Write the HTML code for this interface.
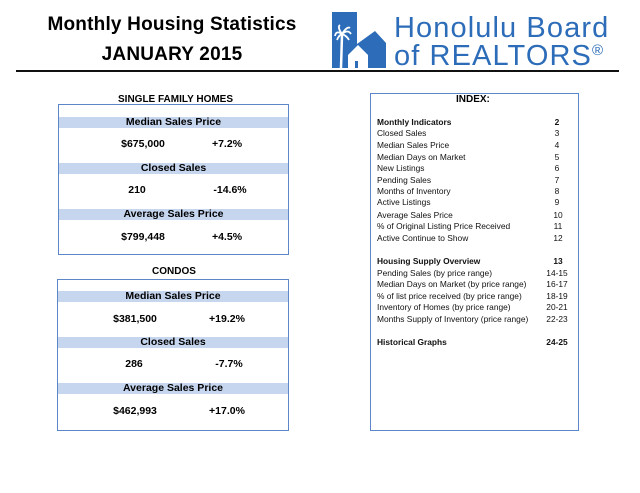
<!DOCTYPE html>
<html><head><meta charset="utf-8"><style>
body{margin:0;width:640px;height:493px;background:#fff;position:relative;font-family:"Liberation Sans",sans-serif;overflow:hidden}
.a{position:absolute;white-space:nowrap}
.t{font-weight:bold;font-size:19px;color:#000;text-align:center;width:320px;left:12px;letter-spacing:0.2px}
.logo{color:#2c6cb8;font-size:29px;left:394px;letter-spacing:1.1px}
.box{position:absolute;border:1.5px solid #5b87c8;box-sizing:border-box}
.bar{position:absolute;background:#c6d6ef;height:11px;font-weight:bold;font-size:10.5px;text-align:center;line-height:11px}
.v{position:absolute;font-weight:bold;font-size:10.5px;transform:translateX(-50%)}
.h{font-weight:bold;font-size:10px}
.ix{position:absolute;left:377px;font-size:8.4px;color:#111}
.in{position:absolute;font-size:8.4px;transform:translateX(-50%);color:#111}
</style></head><body>
<div class="a t" style="top:14px">Monthly Housing Statistics</div>
<div class="a t" style="top:44px">JANUARY 2015</div>
<svg class="a" style="left:330px;top:10px" width="60" height="60" viewBox="330 10 60 60">
<rect x="332" y="12" width="25" height="56" fill="#2c6cb8"/>
<polygon points="357,44 375,31 386,43 386,68 357,68" fill="#2c6cb8"/>
<polygon points="348,55 358,45 368,55 368,68 348,68" fill="#fff"/>
<rect x="355" y="61" width="3" height="7" fill="#2c6cb8"/>
<path d="M341 68 L342 35" stroke="#fff" stroke-width="2.5" fill="none"/>
<path d="M342 34 Q336 30 335 36 M342 34 Q348 29 351 34 M342 34 Q337 27 340 25 M342 34 Q347 26 350 28 M342 34 Q339 35 337 40 M342 34 Q347 36 349 40" stroke="#fff" stroke-width="1.8" fill="none"/>
</svg>
<div class="a logo" style="top:12px">Honolulu Board</div>
<div class="a logo" style="top:40px">of REALTORS<sup style="font-size:15px;vertical-align:10px">®</sup></div>
<div class="a" style="left:16px;top:70px;width:603px;height:2px;background:#111"></div>

<div class="a h" style="left:118px;top:94px">SINGLE FAMILY HOMES</div>
<div class="box" style="left:58px;top:104px;width:231px;height:151px"></div>
<div class="bar" style="left:59px;top:117px;width:229px">Median Sales Price</div>
<div class="v" style="left:143px;top:138px">$675,000</div><div class="v" style="left:227px;top:138px">+7.2%</div>
<div class="bar" style="left:59px;top:163px;width:229px">Closed Sales</div>
<div class="v" style="left:137px;top:184px">210</div><div class="v" style="left:230px;top:184px">-14.6%</div>
<div class="bar" style="left:59px;top:209px;width:229px">Average Sales Price</div>
<div class="v" style="left:143px;top:231px">$799,448</div><div class="v" style="left:227px;top:231px">+4.5%</div>

<div class="a h" style="left:152px;top:266px">CONDOS</div>
<div class="box" style="left:57px;top:279px;width:232px;height:152px"></div>
<div class="bar" style="left:58px;top:291px;width:230px">Median Sales Price</div>
<div class="v" style="left:135px;top:313px">$381,500</div><div class="v" style="left:227px;top:313px">+19.2%</div>
<div class="bar" style="left:58px;top:337px;width:230px">Closed Sales</div>
<div class="v" style="left:134px;top:358px">286</div><div class="v" style="left:229px;top:358px">-7.7%</div>
<div class="bar" style="left:58px;top:383px;width:230px">Average Sales Price</div>
<div class="v" style="left:135px;top:405px">$462,993</div><div class="v" style="left:227px;top:405px">+17.0%</div>

<div class="box" style="left:370px;top:93px;width:209px;height:338px"></div>
<div class="a h" style="left:456px;top:94px">INDEX:</div>
<div class="ix" style="top:117px;font-weight:bold">Monthly Indicators</div><div class="in" style="left:557px;top:117px;font-weight:bold">2</div>
<div class="ix" style="top:128px">Closed Sales</div><div class="in" style="left:557px;top:128px">3</div>
<div class="ix" style="top:140px">Median Sales Price</div><div class="in" style="left:557px;top:140px">4</div>
<div class="ix" style="top:152px">Median Days on Market</div><div class="in" style="left:557px;top:152px">5</div>
<div class="ix" style="top:163px">New Listings</div><div class="in" style="left:557px;top:163px">6</div>
<div class="ix" style="top:175px">Pending Sales</div><div class="in" style="left:557px;top:175px">7</div>
<div class="ix" style="top:186px">Months of Inventory</div><div class="in" style="left:557px;top:186px">8</div>
<div class="ix" style="top:197px">Active Listings</div><div class="in" style="left:557px;top:197px">9</div>
<div class="ix" style="top:210px">Average Sales Price</div><div class="in" style="left:558px;top:210px">10</div>
<div class="ix" style="top:221px">% of Original Listing Price Received</div><div class="in" style="left:558px;top:221px">11</div>
<div class="ix" style="top:233px">Active Continue to Show</div><div class="in" style="left:558px;top:233px">12</div>
<div class="ix" style="top:256px;font-weight:bold">Housing Supply Overview</div><div class="in" style="left:558px;top:256px;font-weight:bold">13</div>
<div class="ix" style="top:268px">Pending Sales (by price range)</div><div class="in" style="left:557px;top:268px">14-15</div>
<div class="ix" style="top:279px">Median Days on Market (by price range)</div><div class="in" style="left:557px;top:279px">16-17</div>
<div class="ix" style="top:291px">% of list price received (by price range)</div><div class="in" style="left:557px;top:291px">18-19</div>
<div class="ix" style="top:302px">Inventory of Homes (by price range)</div><div class="in" style="left:557px;top:302px">20-21</div>
<div class="ix" style="top:314px">Months Supply of Inventory (price range)</div><div class="in" style="left:557px;top:314px">22-23</div>
<div class="ix" style="top:337px;font-weight:bold">Historical Graphs</div><div class="in" style="left:557px;top:337px;font-weight:bold">24-25</div>
</body></html>
